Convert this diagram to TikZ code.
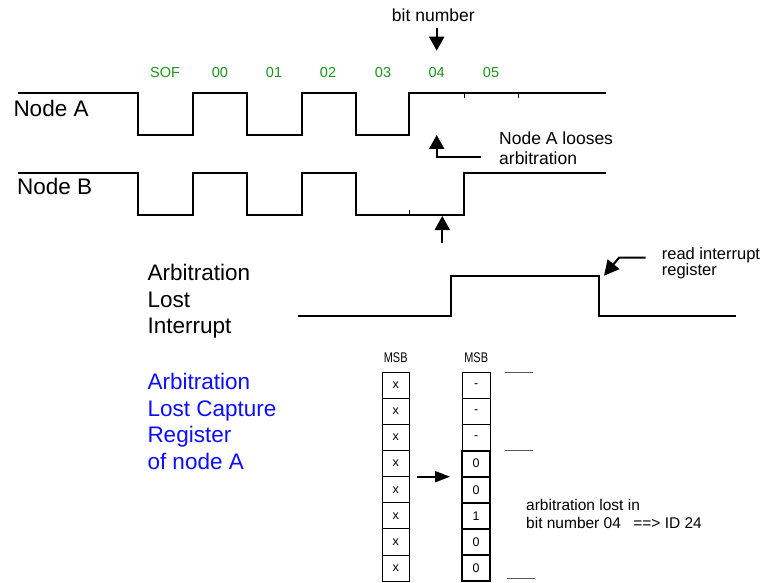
\documentclass[tikz,border=0pt]{standalone}
\usepackage{fontspec}
\usepackage{graphicx}
\setmainfont{Liberation Sans}
\usetikzlibrary{arrows.meta,calc}
\definecolor{bitgreen}{rgb}{0.1,0.58,0.1}
\definecolor{regblue}{rgb}{0.05,0.05,1}
\begin{document}
\begin{tikzpicture}[x=1pt,y=-1pt,
  wave/.style={line width=2pt,line join=miter},
  tickline/.style={line width=1.4pt},
  big/.style={inner sep=0,anchor=base west,font=\fontsize{22.5}{27}\selectfont},
  mid/.style={inner sep=0,anchor=base west,font=\fontsize{17.5}{20}\selectfont},
  bitlbl/.style={inner sep=0,anchor=base,text=bitgreen,font=\fontsize{14.5}{17}\selectfont},
  sml/.style={inner sep=0,anchor=base west,font=\fontsize{15.5}{18}\selectfont},
  arr/.style={line width=2pt,-{Triangle[width=15pt,length=14pt]}},
  cell/.style={draw,line width=1pt,minimum width=26.7pt,minimum height=26.1pt,inner sep=0,font=\fontsize{12.5}{14}\selectfont},
  boldcell/.style={cell,line width=2pt},
  msb/.style={inner sep=0,anchor=base,font=\fontsize{14}{16}\selectfont},
  shortmark/.style={line width=1pt,gray!70!black}]
\useasboundingbox (0,0) rectangle (769,583);

% labels
\node[big] (na) at (13.3,116.7) {Node A};
\node[big] (nb) at (17,195) {Node B};

% bit labels
\node[bitlbl] (sof) at (165,77.3) {SOF};
\node[bitlbl] (b00) at (220,77.3) {00};
\node[bitlbl] (b01) at (274,77.3) {01};
\node[bitlbl] (b02) at (328,77.3) {02};
\node[bitlbl] (b03) at (383,77.3) {03};
\node[bitlbl] (b04) at (436.7,77.3) {04};
\node[bitlbl] (b05) at (491,77.3) {05};

\node[mid,anchor=base] (bn) at (433.3,22) {bit number};
\coordinate (bnS) at (436.7,28.3);
\coordinate (bnE) at (436.7,50.7);
\draw[arr] (bnS) -- (bnE);

% Node A waveform
\draw[wave] (18.3,93.3) -- (138.3,93.3) -- (138.3,135.3) -- (192.7,135.3) -- (192.7,93.3)
  -- (247,93.3) -- (247,135.3) -- (301.7,135.3) -- (301.7,93.3) -- (355.7,93.3)
  -- (355.7,135.3) -- (409.3,135.3) -- (409.3,93.3) -- (606,93.3);
\draw[tickline] (464.3,93.3) -- (464.3,97.8);
\draw[tickline] (518.7,93.3) -- (518.7,97.8);

% Node B waveform
\draw[wave] (18.3,173.3) -- (138.3,173.3) -- (138.3,215.3) -- (192.7,215.3) -- (192.7,173.3)
  -- (247,173.3) -- (247,215.3) -- (301.7,215.3) -- (301.7,173.3) -- (355.7,173.3)
  -- (355.7,215.3) -- (464.3,215.3) -- (464.3,173.3) -- (606,173.3);
\draw[tickline] (409.3,215.3) -- (409.3,210.5);

% Node A looses arbitration
\node[mid] (loose) at (499,145) {Node A looses};
\node[mid] (loose2) at (499,165) {arbitration};
\coordinate (lS) at (481,156.7);
\coordinate (lE) at (436.7,135);
\draw[arr] (lS) -| (lE);

% arrow under node B
\coordinate (bS) at (442.3,243);
\coordinate (bE) at (442.3,216);
\draw[arr] (bS) -- (bE);

% Arbitration lost interrupt
\node[big] (al1) at (147.3,280.7) {Arbitration};
\node[big] (al2) at (147.3,307.3) {Lost};
\node[big] (al3) at (147.3,333.9) {Interrupt};
\draw[wave] (298.3,315.7) -- (450.7,315.7) -- (450.7,275.7) -- (599.3,275.7) -- (599.3,315.7) -- (736,315.7);

\node[sml,font=\fontsize{16.5}{19}\selectfont] (ri1) at (661.7,259.3) {read interrupt};
\node[sml,font=\fontsize{16.5}{19}\selectfont] (ri2) at (661.7,275.3) {register};
\coordinate (rS) at (645.7,257.7);
\coordinate (rM) at (619,257.7);
\coordinate (rE) at (604,275.7);
\draw[line width=2pt,-{Triangle[width=15pt,length=15pt]}] (rS) -- (rM) -- (rE);

% blue label
\node[big,text=regblue] (c1) at (147.3,389.3) {Arbitration};
\node[big,text=regblue] (c2) at (147.3,416) {Lost Capture};
\node[big,text=regblue] (c3) at (147.3,442.7) {Register};
\node[big,text=regblue] (c4) at (147.3,469.3) {of node A};

% registers
\node[msb] (m1) at (395.7,362.7) {\scalebox{0.78}[1]{MSB}};
\node[msb] (m2) at (476.2,362.7) {\scalebox{0.78}[1]{MSB}};

\foreach \i/\v in {1/-,2/-,3/-} {
  \node[cell] (L\i) at (395.7,372.3+26.1*\i-13.05) {x};
  \node[cell,minimum width=27.7pt] (R\i) at (476.2,372.3+26.1*\i-13.05) {\v};
}
\foreach \i/\v in {4/0,5/0,6/1,7/0,8/0} {
  \node[cell] (L\i) at (395.7,372.3+26.1*\i-13.05) {x};
  \node[boldcell,minimum width=27.7pt] (R\i) at (476.2,372.3+26.1*\i-13.05) {\v};
}
\coordinate (gS) at ($(L4.south east)!0.5!(L5.north east)+(7.7,0)$);
\coordinate (gE) at ($(R4.south west)!0.5!(R5.north west)+(-11.3,0)$);
\draw[line width=1.8pt,-{Triangle[width=11pt,length=15pt]}] (gS) -- (gE);

% marks
\draw[shortmark] (505,372.3) -- (532.5,372.3);
\draw[shortmark] (505,450.6) -- (532.5,450.6);
\draw[shortmark] (507,578) -- (535,578);

\node[sml] (t1) at (526,510.5) {arbitration lost in};
\node[sml] (t2) at (526,528.5) {bit number 04\hspace{0.8em}==> ID 24};
\end{tikzpicture}
\end{document}
